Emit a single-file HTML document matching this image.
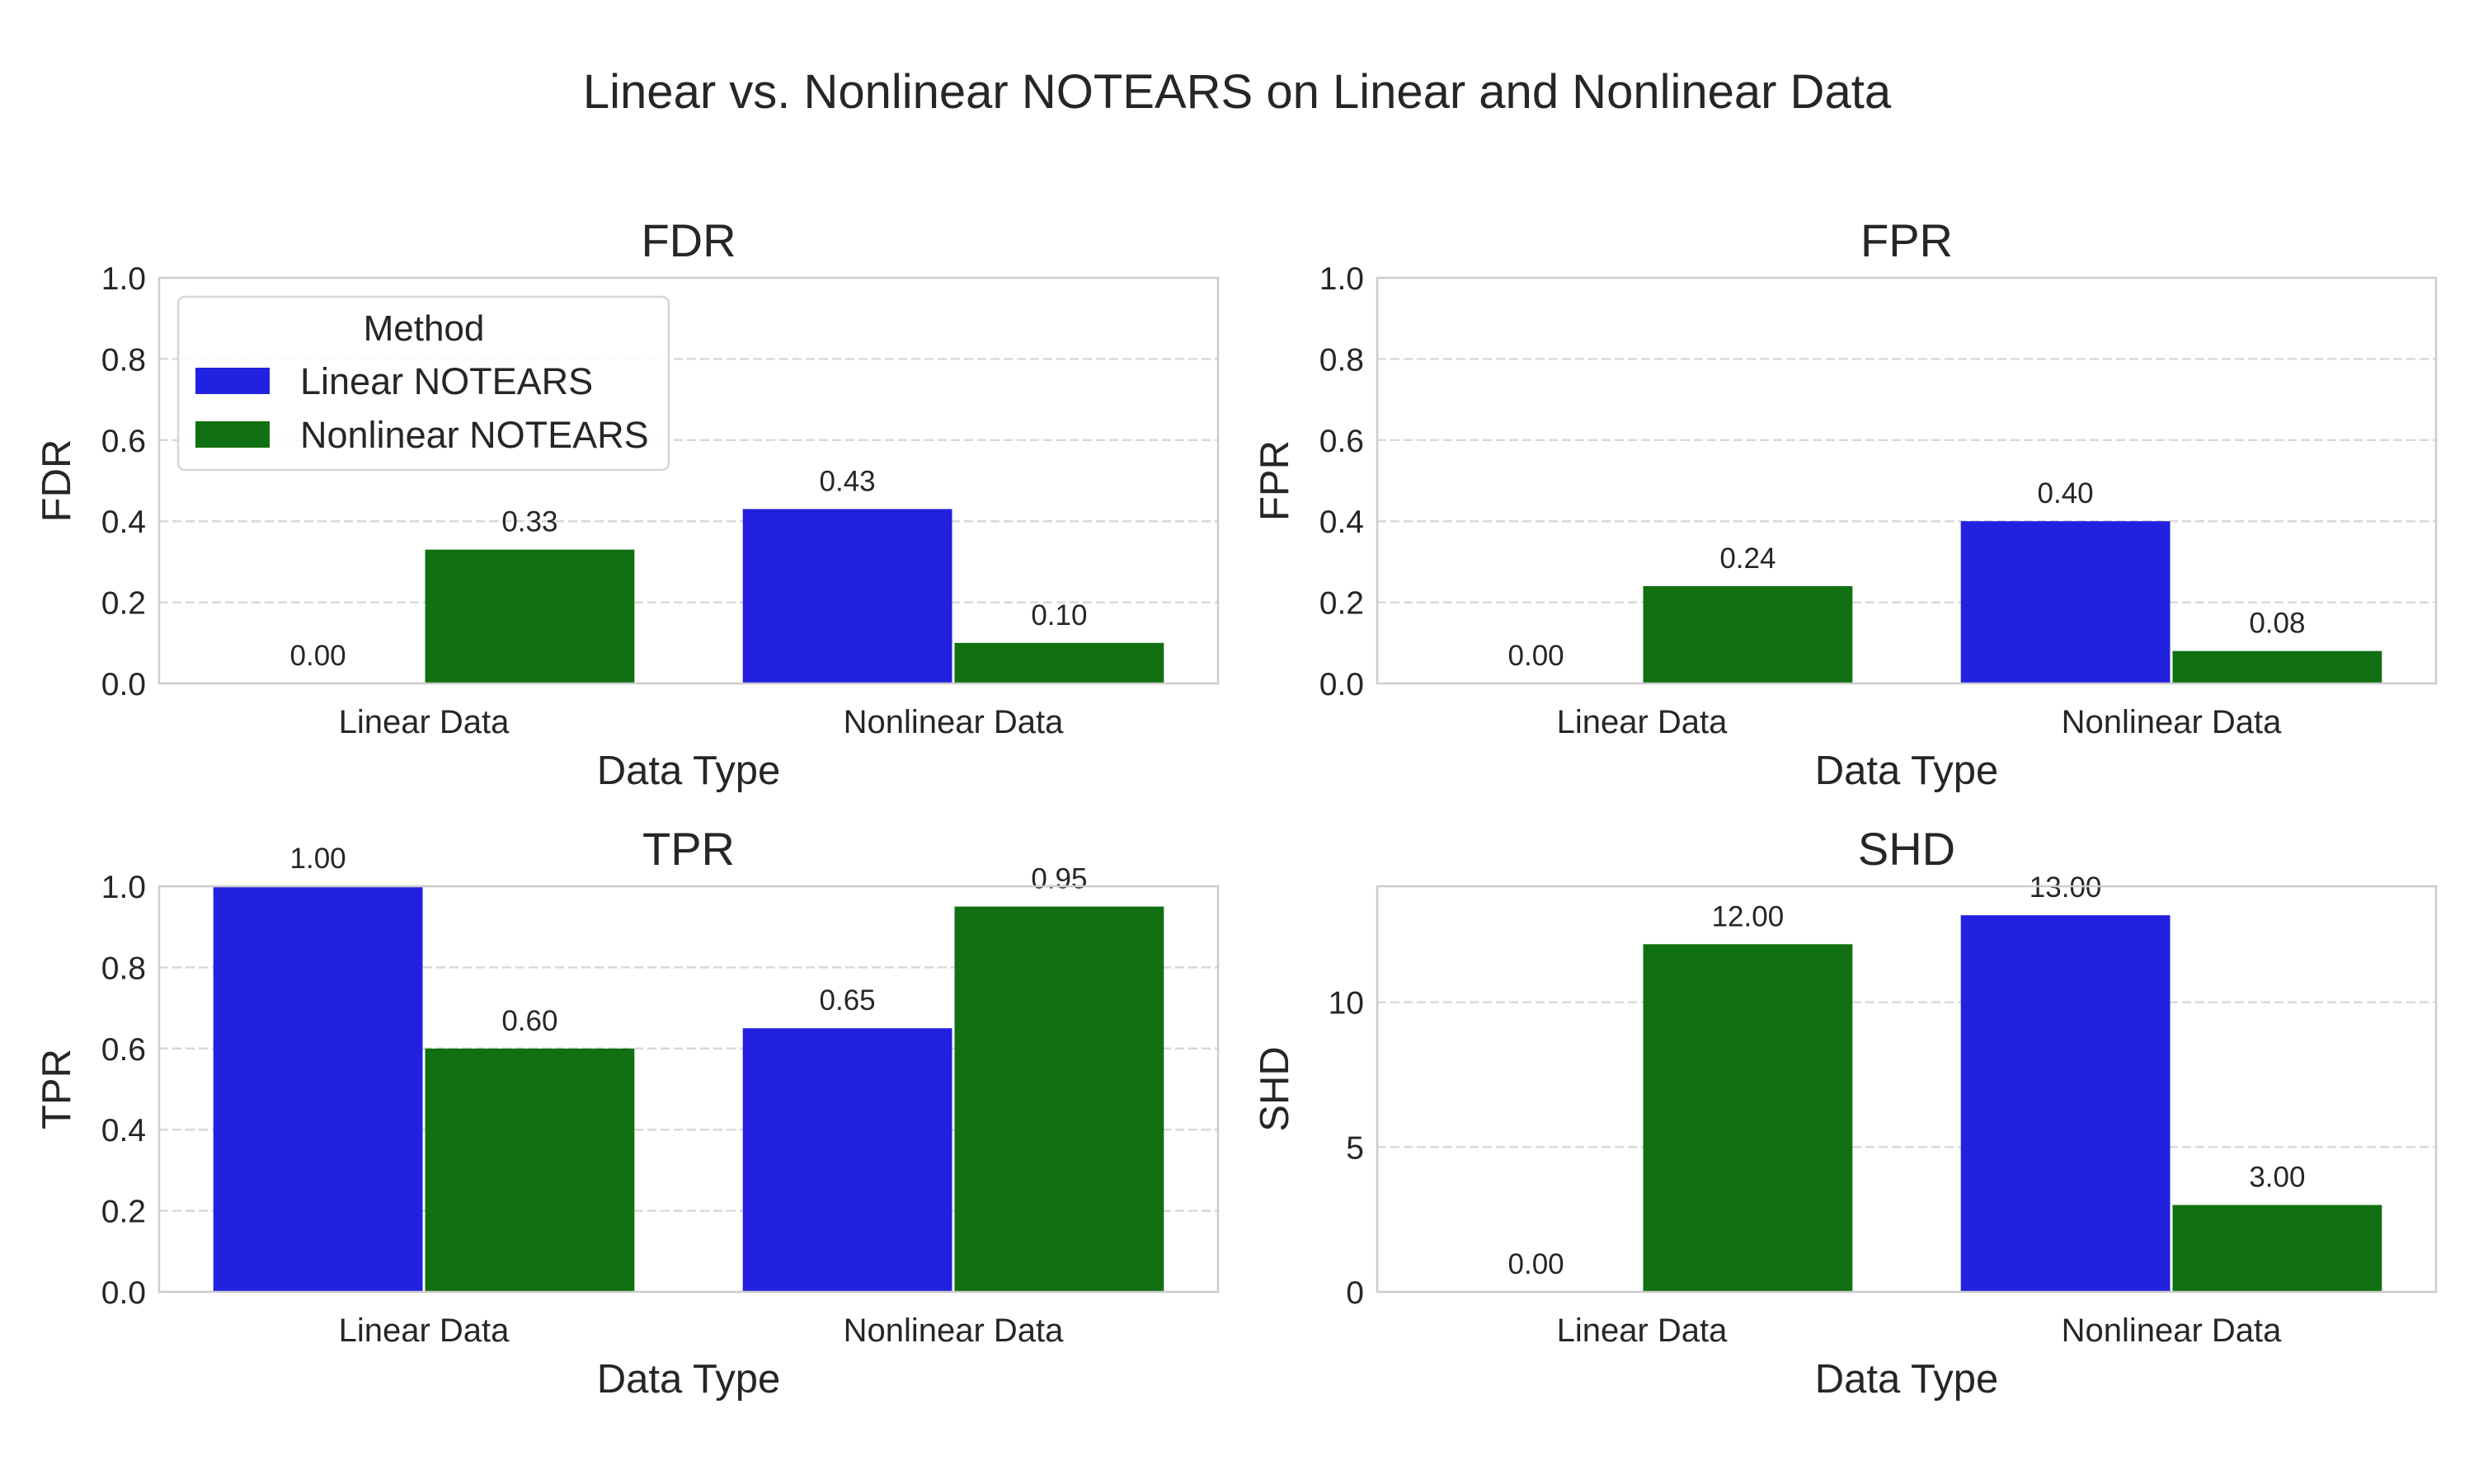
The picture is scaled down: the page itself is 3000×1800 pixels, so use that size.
<!DOCTYPE html>
<html><head><meta charset="utf-8"><style>
html,body{margin:0;padding:0;background:#fff;}
svg{display:block;font-family:"Liberation Sans",Arial,sans-serif;}
</style></head><body>
<svg id="c" width="3000" height="1800" viewBox="0 0 3000 1800" xmlns="http://www.w3.org/2000/svg">
<text x="1500" y="131" font-size="58" text-anchor="middle" fill="#262626">Linear vs. Nonlinear NOTEARS on Linear and Nonlinear Data</text>
</svg>
<script>
const categories = ["Linear Data", "Nonlinear Data"];
const methods = ["Linear NOTEARS", "Nonlinear NOTEARS"];
const metrics = ["FDR", "FPR", "TPR", "SHD"];
const fdrValues = [[0.00, 0.43], [0.33, 0.10]];
const fprValues = [[0.00, 0.40], [0.24, 0.08]];
const tprValues = [[1.00, 0.65], [0.60, 0.95]];
const shdValues = [[0, 13], [12, 3]];
const yTicksRate = [0, 0.2, 0.4, 0.6, 0.8, 1.0];
const yTicksShd = [0, 5, 10];
const yMaxShd = 14;

const NS = "http://www.w3.org/2000/svg";
const svg = document.getElementById('c');
const colors = ["#2121df", "#117011"];
function mk(tag, attrs, parent) {
  const e = document.createElementNS(NS, tag);
  for (const k in attrs) e.setAttribute(k, attrs[k]);
  (parent || svg).appendChild(e);
  return e;
}
const panels = [
  {name: "FDR", vals: fdrValues, ticks: yTicksRate, ymax: 1.0, dec: 1, x0: 193, x1: 1477, y0: 337, y1: 829},
  {name: "FPR", vals: fprValues, ticks: yTicksRate, ymax: 1.0, dec: 1, x0: 1670, x1: 2954, y0: 337, y1: 829},
  {name: "TPR", vals: tprValues, ticks: yTicksRate, ymax: 1.0, dec: 1, x0: 193, x1: 1477, y0: 1075, y1: 1567},
  {name: "SHD", vals: shdValues, ticks: yTicksShd, ymax: yMaxShd, dec: 0, x0: 1670, x1: 2954, y0: 1075, y1: 1567}
];
panels.forEach(p => {
  const g = mk('g', {});
  
  
  const ys = v => p.y1 - (v / p.ymax) * (p.y1 - p.y0);
  const xs = v => p.x0 + (v + 0.5) / 2 * (p.x1 - p.x0);
  p.ticks.forEach(t => {
    if (t > 0 && t < p.ymax) {
      const l = mk('line', {x1: p.x0, x2: p.x1, y1: ys(t), y2: ys(t), stroke: "#d9d9d9", "stroke-width": 2.5, "stroke-dasharray": "11,5"}, g);
      
      
    }
    const tl = mk('text', {x: p.x0 - 16, y: ys(t) + 14, "font-size": 39, "text-anchor": "end", fill: "#262626"}, g);
    
    
    tl.textContent = t.toFixed(p.dec);
  });
  for (let m = 0; m < 2; m++) {
    for (let c = 0; c < 2; c++) {
      const v = p.vals[m][c];
      const bx0 = xs(c - 0.4 + m * 0.4), bx1 = xs(c + m * 0.4);
      const r = mk('rect', {x: bx0 + 1.5, y: ys(v), width: bx1 - bx0 - 3, height: Math.max(0, p.y1 - ys(v)), fill: colors[m]}, g);
      
      
      const vl = mk('text', {x: (bx0 + bx1) / 2, y: ys(v) - 22, "font-size": 35, "text-anchor": "middle", fill: "#262626"}, g);
      
      
      vl.textContent = v.toFixed(2);
    }
  }
  const f = mk('rect', {x: p.x0, y: p.y0, width: p.x1 - p.x0, height: p.y1 - p.y0, fill: "none", stroke: "#cccccc", "stroke-width": 2.5}, g);
  
  
  categories.forEach((cat, i) => {
    const t = mk('text', {x: xs(i), y: p.y1 + 60, "font-size": 40, "text-anchor": "middle", fill: "#262626"}, g);
    
    
    t.textContent = cat;
  });
  const xt = mk('text', {x: (p.x0 + p.x1) / 2, y: p.y1 + 122, "font-size": 49, "text-anchor": "middle", fill: "#262626"}, g);
  
  
  xt.textContent = "Data Type";
  const yt = mk('text', {x: 0, y: 0, "font-size": 49, "text-anchor": "middle", fill: "#262626", transform: `translate(${p.x0 - 108},${(p.y0 + p.y1) / 2}) rotate(-90)`}, g);
  
  
  yt.textContent = p.name;
  const tt = mk('text', {x: (p.x0 + p.x1) / 2, y: p.y0 - 26, "font-size": 56, "text-anchor": "middle", fill: "#262626"}, g);
  
  
  tt.textContent = p.name;
});
const lg = mk('g', {});


const lb = mk('rect', {x: 216, y: 360, width: 595, height: 210, rx: 8, fill: "#fff", "fill-opacity": 0.85, stroke: "#d6d6d6", "stroke-width": 2.5}, lg);


const lt = mk('text', {x: 514, y: 413, "font-size": 44, "text-anchor": "middle", fill: "#262626"}, lg);


lt.textContent = "Method";
methods.forEach((m, i) => {
  const sw = mk('rect', {x: 237, y: 446 + i * 65, width: 90, height: 32, fill: colors[i]}, lg);
  
  
  const t = mk('text', {x: 364, y: 478 + i * 65, "font-size": 45, fill: "#262626"}, lg);
  
  
  t.textContent = m;
});
</script>
</body></html>
